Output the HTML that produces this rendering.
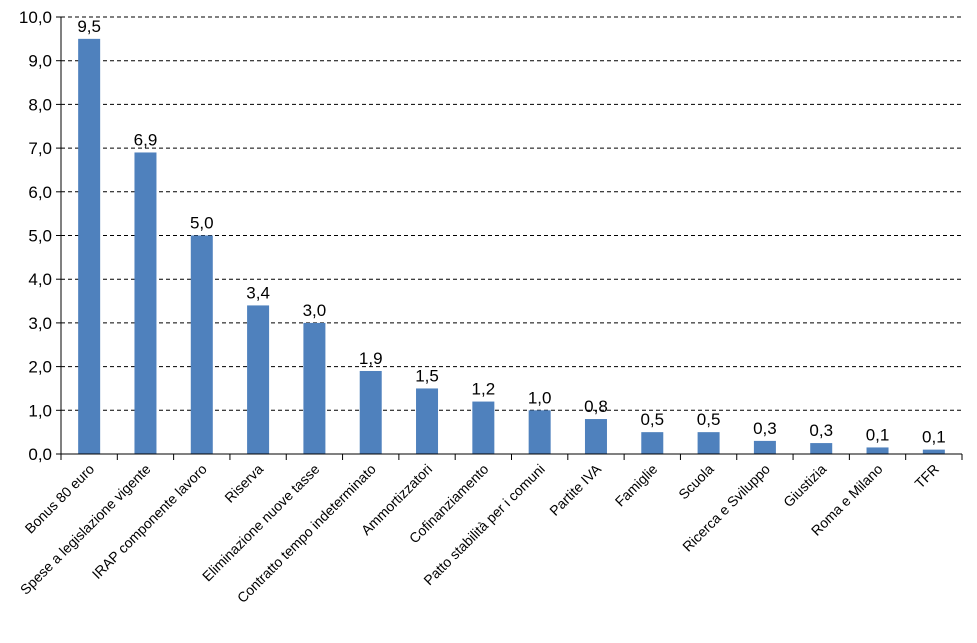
<!DOCTYPE html>
<html><head><meta charset="utf-8"><style>body{margin:0;background:#fff}svg{font-family:"Liberation Sans",sans-serif}</style></head>
<body>
<svg id="c" width="977" height="638" xmlns="http://www.w3.org/2000/svg"></svg>
<script>
const categories=["Bonus 80 euro","Spese a legislazione vigente","IRAP componente lavoro","Riserva","Eliminazione nuove tasse","Contratto tempo indeterminato","Ammortizzatori","Cofinanziamento","Patto stabilità per i comuni","Partite IVA","Famiglie","Scuola","Ricerca e Sviluppo","Giustizia","Roma e Milano","TFR"];
const values=[9.5,6.9,5.0,3.4,3.0,1.9,1.5,1.2,1.0,0.8,0.5,0.5,0.3,0.25,0.15,0.1];
const yTicks=[0,1,2,3,4,5,6,7,8,9,10];
const svg=document.getElementById('c');const NS="http://www.w3.org/2000/svg";
const L=61,R=962,T=17,B=454,yMax=10;
const y=v=>B-(v/yMax)*(B-T);
const step=(R-L)/categories.length;const x=i=>L+step*(i+0.5);
function mk(t,a,p){const e=document.createElementNS(NS,t);for(const k in a)e.setAttribute(k,a[k]);(p||svg).appendChild(e);return e;}
const fmt=v=>v.toFixed(1).replace('.',',');
yTicks.forEach(t=>{
 if(t>0){const g=mk('line',{x1:L,x2:R,y1:y(t),y2:y(t),stroke:'#000','stroke-width':1,'stroke-dasharray':'4,3'});
 
 }
 const tk=mk('line',{x1:L-5,x2:L,y1:y(t),y2:y(t),stroke:'#000'});
 
 
 const tx=mk('text',{x:L-9,y:y(t)+6,'text-anchor':'end','font-size':17});tx.textContent=fmt(t);
 
 
});
values.forEach((v,i)=>{
 const r=mk('rect',{x:x(i)-11,y:y(v),width:22,height:B-y(v),fill:'#4f81bd'});
 
 
 const t=mk('text',{x:x(i),y:y(v)-7,'text-anchor':'middle','font-size':17});t.textContent=fmt(v);
 
 
 const c=mk('text',{x:0,y:0,'text-anchor':'end','font-size':14,transform:`translate(${x(i)+6},${B+16}) rotate(-45)`});c.textContent=categories[i];
 
 
});
for(let i=0;i<=categories.length;i++){const tk=mk('line',{x1:L+step*i,x2:L+step*i,y1:B,y2:B+6,stroke:'#000'});
 
 }
const ya=mk('line',{x1:L,x2:L,y1:T,y2:B,stroke:'#000'});


const xa=mk('line',{x1:L,x2:R,y1:B,y2:B,stroke:'#000'});


</script>
</body></html>
